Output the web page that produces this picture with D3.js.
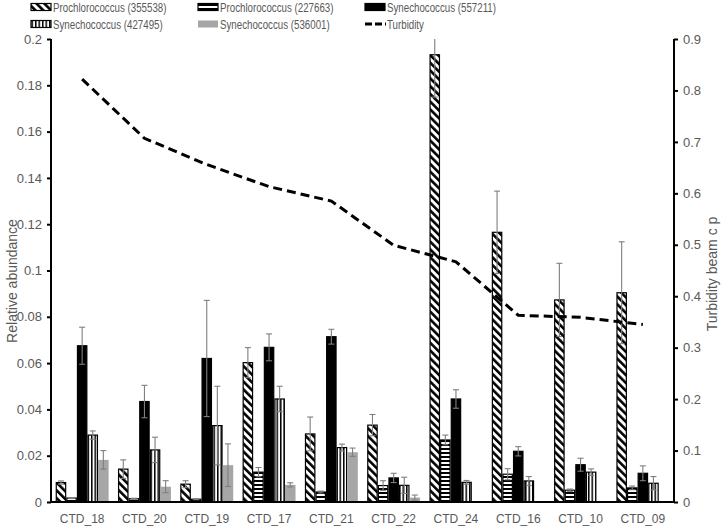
<!DOCTYPE html>
<html>
<head>
<meta charset="utf-8">
<script src="https://cdn.jsdelivr.net/npm/d3@7"></script>
<style>
  html, body { margin: 0; padding: 0; background: #fff; }
  svg { display: block; font-family: "Liberation Sans", Arial, sans-serif; }
</style>
</head>
<body>
<svg id="chart" width="723" height="526"></svg>
<script>
const categories = ["CTD_18","CTD_20","CTD_19","CTD_17","CTD_21","CTD_22","CTD_24","CTD_16","CTD_10","CTD_09"];

const seriesNames = ["Prochlorococcus (355538)","Prochlorococcus (227663)","Synechococcus (557211)","Synechococcus (427495)","Synechococcus (536001)"];

const pro355538    = [0.0084, 0.0142, 0.0077, 0.0602, 0.0294, 0.0332, 0.1932, 0.1165, 0.0873, 0.0904];
const pro355538Err = [0.0007, 0.0040, 0.0015, 0.0065, 0.0073, 0.0046, 0.0183, 0.0178, 0.0158, 0.0220];
const pro227663    = [0.0017, 0.0014, 0.0012, 0.0129, 0.0043, 0.0071, 0.0268, 0.0120, 0.0051, 0.0061];
const pro227663Err = [0.0002, 0.0002, 0.0002, 0.0020, 0.0004, 0.0021, 0.0021, 0.0024, 0.0005, 0.0008];
const syn557211    = [0.0675, 0.0434, 0.0620, 0.0668, 0.0714, 0.0104, 0.0445, 0.0219, 0.0161, 0.0124];
const syn557211Err = [0.0080, 0.0070, 0.0251, 0.0058, 0.0032, 0.0020, 0.0040, 0.0020, 0.0028, 0.0032];
const syn427495    = [0.0289, 0.0225, 0.0330, 0.0445, 0.0235, 0.0072, 0.0085, 0.0091, 0.0129, 0.0081];
const syn427495Err = [0.0018, 0.0055, 0.0170, 0.0055, 0.0015, 0.0035, 0.0008, 0.0019, 0.0014, 0.0029];
const syn536001    = [0.0182, 0.0066, 0.0159, 0.0074, 0.0215, 0.0019, 0.0002, 0.0003, 0.0001, 0.0003];
const syn536001Err = [0.0040, 0.0026, 0.0092, 0.0009, 0.0018, 0.0011, 0, 0, 0, 0];

const turbidity = [0.822, 0.707, 0.656, 0.613, 0.585, 0.499, 0.467, 0.363, 0.359, 0.345];

const leftTicks  = [0, 0.02, 0.04, 0.06, 0.08, 0.1, 0.12, 0.14, 0.16, 0.18, 0.2];
const rightTicks = [0, 0.1, 0.2, 0.3, 0.4, 0.5, 0.6, 0.7, 0.8, 0.9];

const seriesValues = [pro355538, pro227663, syn557211, syn427495, syn536001];
const seriesErrs = [pro355538Err, pro227663Err, syn557211Err, syn427495Err, syn536001Err];
const seriesFill = ["url(#diag)", "url(#hstripe)", "#000000", "url(#vstripe)", "#a6a6a6"];
const seriesStroke = ["#000", "#000", "#000", "#000", "none"];

const svg = d3.select("#chart");
const X0 = 51, X1 = 674, Y0 = 502, Y1 = 39;
const textColor = "#595959";

// patterns
const defs = svg.append("defs");
const pd = defs.append("pattern").attr("id","diag").attr("patternUnits","userSpaceOnUse")
  .attr("width",5.5).attr("height",5.5).attr("patternTransform","rotate(-45)");
pd.append("rect").attr("width",5.5).attr("height",5.5).attr("fill","#fff");
pd.append("line").attr("x1",1.3).attr("y1",0).attr("x2",1.3).attr("y2",5.5).attr("stroke","#000").attr("stroke-width",2.6);
const ph = defs.append("pattern").attr("id","hstripe").attr("patternUnits","userSpaceOnUse")
  .attr("width",4).attr("height",4);
ph.append("rect").attr("width",4).attr("height",4).attr("fill","#fff");
ph.append("rect").attr("x",0).attr("y",0).attr("width",4).attr("height",2).attr("fill","#000");
const pv = defs.append("pattern").attr("id","vstripe").attr("patternUnits","userSpaceOnUse")
  .attr("width",3.5).attr("height",4);
pv.append("rect").attr("width",3.5).attr("height",4).attr("fill","#fff");
pv.append("rect").attr("x",0).attr("y",0).attr("width",1.5).attr("height",4).attr("fill","#000");

const x = d3.scaleBand().domain(categories).range([X0, X1]).paddingInner(0.15).paddingOuter(0.075);
const xs = d3.scaleBand().domain(seriesNames).range([0, x.bandwidth()]).padding(0);
const y = d3.scaleLinear().domain([0, 0.2]).range([Y0, Y1]);
const y2 = d3.scaleLinear().domain([0, 0.9]).range([Y0, Y1]);

// bars
seriesNames.forEach((name, si) => {
  const g = svg.append("g");
  const data = categories.map((c, i) => ({c, v: seriesValues[si][i], e: seriesErrs[si][i]}));
  g.selectAll("rect").data(data).join("rect")
    .attr("x", d => x(d.c) + xs(name) + (seriesStroke[si] !== "none" ? 0.6 : 0))
    .attr("y", d => y(d.v))
    .attr("width", xs.bandwidth() - (seriesStroke[si] !== "none" ? 1.2 : 0))
    .attr("height", d => Y0 - y(d.v))
    .attr("fill", seriesFill[si])
    .attr("stroke", seriesStroke[si])
    .attr("stroke-width", 1.2);
});

// error bars
seriesNames.forEach((name, si) => {
  const g = svg.append("g").attr("stroke","#7f7f7f").attr("stroke-width",1.1).attr("fill","none");
  const data = categories.map((c, i) => ({c, v: seriesValues[si][i], e: seriesErrs[si][i]})).filter(d => d.e > 0);
  data.forEach(d => {
    const cx = x(d.c) + xs(name) + xs.bandwidth() / 2;
    const hiV = Math.min(0.2, d.v + d.e);
    const yt = y(hiV), yb = y(Math.max(0, d.v - d.e));
    g.append("line").attr("x1",cx).attr("x2",cx).attr("y1",yt).attr("y2",yb);
    if (d.v + d.e <= 0.2) g.append("line").attr("x1",cx-3).attr("x2",cx+3).attr("y1",yt).attr("y2",yt);
    g.append("line").attr("x1",cx-3).attr("x2",cx+3).attr("y1",yb).attr("y2",yb);
  });
});

// turbidity line
const line = d3.line().x((d,i) => x(categories[i]) + x.bandwidth()/2).y(d => y2(d));
svg.append("path").datum(turbidity).attr("d", line)
  .attr("fill","none").attr("stroke","#000").attr("stroke-width",3)
  .attr("stroke-dasharray","9,5");

// axes
const fmt = d => String(+d.toFixed(2));
const yAxis = d3.axisLeft(y).tickValues(leftTicks).tickFormat(fmt).tickSize(4).tickPadding(5);
const gy = svg.append("g").attr("transform",`translate(${X0},0)`).call(yAxis);
const y2Axis = d3.axisRight(y2).tickValues(rightTicks).tickFormat(fmt).tickSize(4).tickPadding(5);
const gy2 = svg.append("g").attr("transform",`translate(${X1},0)`).call(y2Axis);
const xAxis = d3.axisBottom(x).tickSize(0).tickPadding(12);
const gx = svg.append("g").attr("transform",`translate(0,${Y0})`).call(xAxis);

[gy, gy2, gx].forEach(g => {
  g.select(".domain").attr("stroke","#000").attr("stroke-width",2);
  g.selectAll(".tick line").attr("stroke","#000").attr("stroke-width",2);
  g.selectAll(".tick text").attr("fill",textColor).attr("font-size",13)
    .attr("font-family","'Liberation Sans', Arial, sans-serif");
});
gx.selectAll(".tick text").attr("font-size",12);
gy.select(".domain").attr("d", `M0,${Y0}V${Y1}`);
gy2.select(".domain").attr("d", `M0,${Y0}V${Y1}`);
gx.select(".domain").attr("d", `M${X0},0H${X1}`);

// axis titles
svg.append("text").attr("transform",`translate(12,281) rotate(-90)`)
  .attr("text-anchor","middle").attr("dominant-baseline","central")
  .attr("fill",textColor).attr("font-size",14).text("Relative abundance");
svg.append("text").attr("transform",`translate(712,274) rotate(-90)`)
  .attr("text-anchor","middle").attr("dominant-baseline","central")
  .attr("fill",textColor).attr("font-size",14).text("Turbidity beam c p");

// legend
const legendItems = [
  {name: seriesNames[0], type: "bar", si: 0, lx: 31, ly: 7},
  {name: seriesNames[1], type: "bar", si: 1, lx: 198, ly: 7},
  {name: seriesNames[2], type: "bar", si: 2, lx: 365, ly: 7},
  {name: seriesNames[3], type: "bar", si: 3, lx: 31, ly: 24},
  {name: seriesNames[4], type: "bar", si: 4, lx: 198, ly: 24},
  {name: "Turbidity", type: "line", lx: 365, ly: 24}
];
const lg = svg.append("g");
legendItems.forEach(it => {
  if (it.type === "bar") {
    lg.append("rect").attr("x", it.lx).attr("y", it.ly - 3.5).attr("width", 20).attr("height", 7)
      .attr("fill", seriesFill[it.si]).attr("stroke", seriesStroke[it.si]).attr("stroke-width", 1.2);
  } else {
    lg.append("line").attr("x1", it.lx).attr("x2", it.lx + 21).attr("y1", it.ly).attr("y2", it.ly)
      .attr("stroke","#000").attr("stroke-width",3).attr("stroke-dasharray","7,3,7,3,2,3");
  }
  lg.append("text").attr("transform", `translate(${it.lx + 22},${it.ly}) scale(0.76,1)`)
    .attr("dominant-baseline","central")
    .attr("fill", textColor).attr("font-size", 12.8).text(it.name);
});
</script>
</body>
</html>
